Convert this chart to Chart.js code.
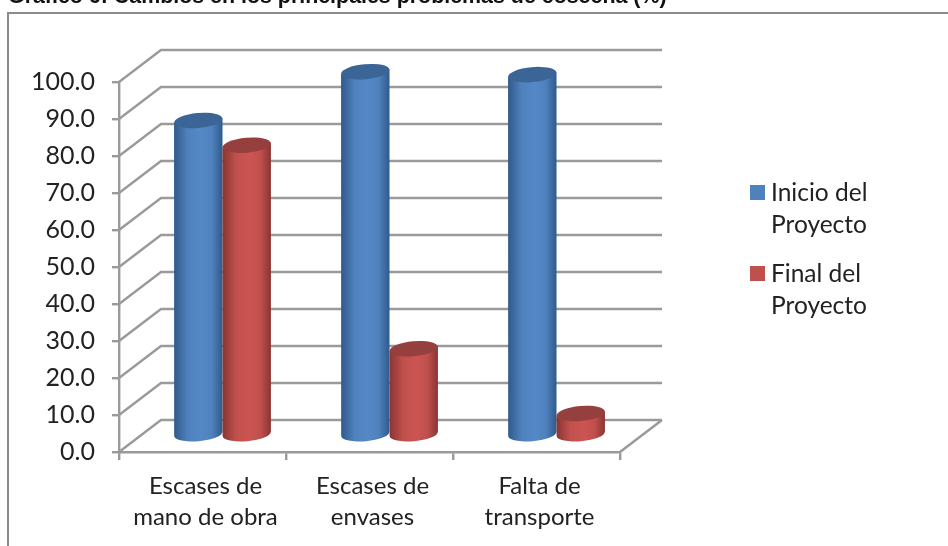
<!DOCTYPE html>
<html>
<head>
<meta charset="utf-8">
<script src="https://cdn.jsdelivr.net/npm/chart.js@4"></script>
<style>
  html, body { margin: 0; padding: 0; background: #fff; overflow: hidden; }
  #page { position: relative; width: 948px; height: 546px; overflow: hidden; filter: blur(0.5px); }
  #titulo {
    position: absolute; left: 8px; top: -16px; white-space: nowrap;
    font: bold 21.4px "Liberation Sans", Arial, sans-serif; color: #111;
  }
  #marco {
    position: absolute; left: 7px; top: 12px; width: 960px; height: 560px;
    border-left: 2px solid #8a8a8a; border-top: 2px solid #8a8a8a;
  }
  #grafico { position: absolute; left: 0; top: 0; }
</style>
</head>
<body>
<div id="page">
  <div id="titulo">Gráfico 6: Cambios en los principales problemas de cosecha (%)</div>
  <div id="marco"></div>
  <canvas id="grafico" width="948" height="546"></canvas>
</div>
<script>
// --- Datos ---
const categorias = [["Escases de", "mano de obra"], ["Escases de", "envases"], ["Falta de", "transporte"]];
const serieInicio = [85.0, 98.2, 97.4];
const serieFinal = [78.3, 23.3, 5.8];
const nombresLeyenda = [["Inicio del", "Proyecto"], ["Final del", "Proyecto"]];
const colores = ["#4f81bd", "#c0504d"];
const oscuros = ["#2f5a8c", "#8a3533"];
const tapas = ["#3b6596", "#95403e"];

const FUENTE = "Lato, 'Open Sans', sans-serif";
const GRIS = "#9a9a9a";
// desplazamiento de la pared del fondo y del centro de los cilindros
const FONDO_X = 42, FONDO_Y = -32;
const CIL_X = 20, CIL_Y = -17;

// --- Paredes 3D: lineas del fondo y diagonales ---
function dibujarParedes(chart) {
    const { ctx, chartArea, scales } = chart;
    ctx.save();
    ctx.strokeStyle = GRIS;
    ctx.lineWidth = 2.4;
    scales.y.ticks.forEach(t => {
        const y = scales.y.getPixelForValue(t.value);
        ctx.beginPath();
        ctx.moveTo(chartArea.left, y);
        ctx.lineTo(chartArea.left + FONDO_X, y + FONDO_Y);
        ctx.lineTo(chartArea.right + FONDO_X, y + FONDO_Y);
        ctx.stroke();
    });
    // borde derecho del piso
    ctx.beginPath();
    ctx.moveTo(chartArea.right, chartArea.bottom);
    ctx.lineTo(chartArea.right + FONDO_X, chartArea.bottom + FONDO_Y);
    ctx.stroke();
    ctx.restore();
}

// --- Cilindro a partir del elemento de barra ---
function dibujarCilindro(ctx, bar, idx) {
    const cx = bar.x + CIL_X;
    const r = bar.width / 2;
    const yTop = bar.y + CIL_Y;
    const yBase = bar.base + CIL_Y;
    const ry = 7.5, giro = -0.09;
    const dy = Math.sin(giro) * r;

    const grad = ctx.createLinearGradient(cx - r, 0, cx + r, 0);
    grad.addColorStop(0, oscuros[idx]);
    grad.addColorStop(0.28, colores[idx]);
    grad.addColorStop(0.55, idx === 0 ? "#5488c6" : "#cc5552");
    grad.addColorStop(0.78, colores[idx]);
    grad.addColorStop(1, oscuros[idx]);

    ctx.beginPath();
    ctx.moveTo(cx - r, yTop - dy);
    ctx.lineTo(cx + r, yTop + dy);
    ctx.lineTo(cx + r, yBase + dy);
    ctx.ellipse(cx, yBase, r, ry, giro, 0, Math.PI);
    ctx.closePath();
    ctx.fillStyle = grad;
    ctx.fill();

    ctx.beginPath();
    ctx.ellipse(cx, yTop, r, ry, giro, 0, Math.PI * 2);
    ctx.fillStyle = tapas[idx];
    ctx.fill();
}

// --- Leyenda con nombres en dos lineas ---
function dibujarLeyenda(chart) {
    const { ctx } = chart;
    const tops = [185, 266];
    ctx.save();
    ctx.font = "24.5px " + FUENTE;
    ctx.textBaseline = "middle";
    nombresLeyenda.forEach((lineas, i) => {
        ctx.fillStyle = colores[i];
        ctx.fillRect(750, tops[i], 15, 15);
        ctx.fillStyle = "#222";
        lineas.forEach((txt, j) => ctx.fillText(txt, 771, tops[i] + 8 + j * 32));
    });
    ctx.restore();
}

const cilindros3d = {
    id: "cilindros3d",
    beforeDatasetsDraw(chart) {
        dibujarParedes(chart);
        const n = categorias.length;
        for (let c = 0; c < n; c++) {
            chart.data.datasets.forEach((ds, idx) => {
                dibujarCilindro(chart.ctx, chart.getDatasetMeta(idx).data[c], idx);
            });
        }
        dibujarLeyenda(chart);
        return false; // las barras planas no se dibujan
    }
};

new Chart(document.getElementById("grafico"), {
    type: "bar",
    data: {
        labels: categorias,
        datasets: [
            { label: "Inicio del Proyecto", data: serieInicio, backgroundColor: colores[0] },
            { label: "Final del Proyecto", data: serieFinal, backgroundColor: colores[1] }
        ]
    },
    plugins: [cilindros3d],
    options: {
        responsive: false,
        animation: false,
        layout: { padding: { left: 0, top: 82, right: 328, bottom: 0 } },
        categoryPercentage: 0.58,
        barPercentage: 1,
        plugins: { legend: { display: false }, title: { display: false }, tooltip: { enabled: false } },
        scales: {
            x: {
                afterFit: s => { s.height = 94; },
                border: { color: GRIS, width: 2.4 },
                grid: { color: GRIS, lineWidth: 2.4, drawOnChartArea: false, tickLength: 8 },
                ticks: { color: "#222", font: { family: FUENTE, size: 24, lineHeight: 1.29 }, padding: 11, maxRotation: 0, labelOffset: 3 }
            },
            y: {
                min: 0,
                max: 100,
                afterFit: s => { s.width = 119; },
                border: { color: GRIS, width: 2.4 },
                grid: { color: GRIS, lineWidth: 2.4, drawOnChartArea: false, tickLength: 7 },
                ticks: {
                    stepSize: 10,
                    color: "#222",
                    font: { family: FUENTE, size: 25 },
                    padding: 17,
                    callback: v => v.toFixed(1)
                }
            }
        }
    }
});
</script>
</body>
</html>
